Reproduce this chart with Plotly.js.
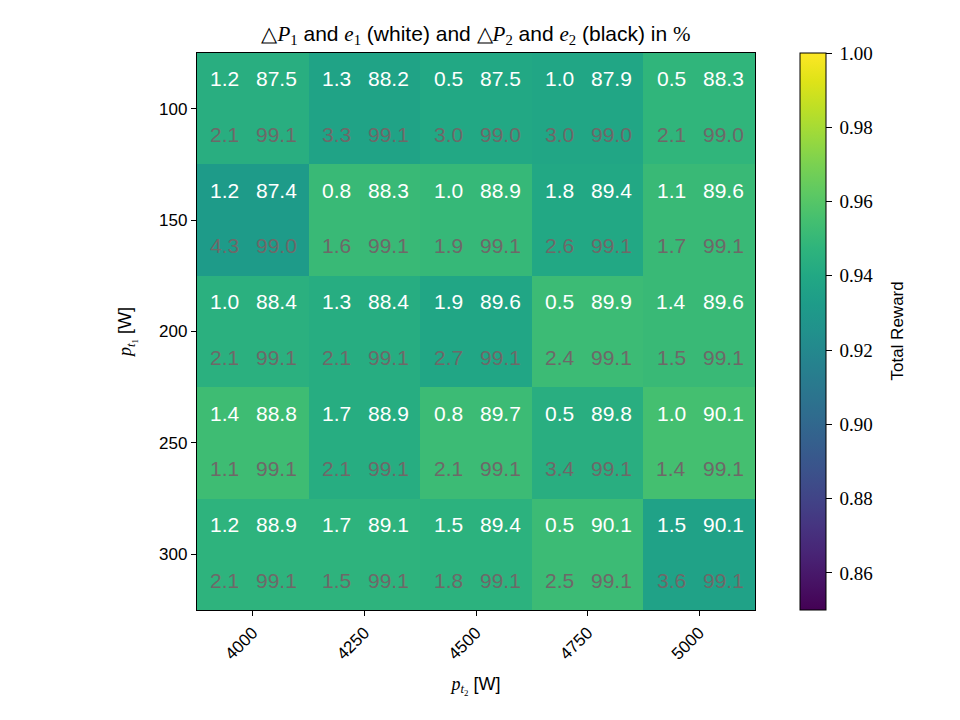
<!DOCTYPE html>
<html>
<head>
<meta charset="utf-8">
<script src="https://cdn.plot.ly/plotly-3.0.1.min.js"></script>
<style>
  html, body { margin: 0; padding: 0; background: #ffffff; }
  #chart { width: 960px; height: 720px; }
</style>
</head>
<body>
<div id="chart"></div>
<script>
// Grid axes: second target power (columns) and first target power (rows), in W
const pt2 = [4000, 4250, 4500, 4750, 5000];
const pt1 = [100, 150, 200, 250, 300];

// Total reward per (pt1, pt2) pair
const totalReward = [
  [0.944, 0.937, 0.940, 0.939, 0.948],
  [0.932, 0.951, 0.950, 0.940, 0.951],
  [0.945, 0.943, 0.939, 0.952, 0.951],
  [0.953, 0.943, 0.952, 0.944, 0.955],
  [0.947, 0.947, 0.946, 0.952, 0.936]
];

// Deviation and efficiency of unit 1 (%)
const dP1 = [
  [1.2, 1.3, 0.5, 1.0, 0.5],
  [1.2, 0.8, 1.0, 1.8, 1.1],
  [1.0, 1.3, 1.9, 0.5, 1.4],
  [1.4, 1.7, 0.8, 0.5, 1.0],
  [1.2, 1.7, 1.5, 0.5, 1.5]
];
const e1 = [
  [87.5, 88.2, 87.5, 87.9, 88.3],
  [87.4, 88.3, 88.9, 89.4, 89.6],
  [88.4, 88.4, 89.6, 89.9, 89.6],
  [88.8, 88.9, 89.7, 89.8, 90.1],
  [88.9, 89.1, 89.4, 90.1, 90.1]
];

// Deviation and efficiency of unit 2 (%)
const dP2 = [
  [2.1, 3.3, 3.0, 3.0, 2.1],
  [4.3, 1.6, 1.9, 2.6, 1.7],
  [2.1, 2.1, 2.7, 2.4, 1.5],
  [1.1, 2.1, 2.1, 3.4, 1.4],
  [2.1, 1.5, 1.8, 2.5, 3.6]
];
const e2 = [
  [99.1, 99.1, 99.0, 99.0, 99.0],
  [99.0, 99.1, 99.1, 99.1, 99.1],
  [99.1, 99.1, 99.1, 99.1, 99.1],
  [99.1, 99.1, 99.1, 99.1, 99.1],
  [99.1, 99.1, 99.1, 99.1, 99.1]
];

const cbTicks = [0.86, 0.88, 0.90, 0.92, 0.94, 0.96, 0.98, 1.00];

// Finely sampled viridis so the interpolation follows the perceptual map
const viridisStops = ['#440154', '#471365', '#482475', '#463480', '#414487', '#3b528b',
  '#355f8d', '#2f6c8e', '#2a788e', '#25848e', '#21918c', '#1e9c89', '#22a884',
  '#2fb47c', '#44bf70', '#5ec962', '#7ad151', '#9bd93c', '#bddf26', '#dfe318', '#fde725'];
const viridis = viridisStops.map((c, i) => [i / (viridisStops.length - 1), c]);

const SANS = 'Liberation Sans';
const SERIF = 'Liberation Serif';
const mathSpan = s => '<span style="font-family:' + SERIF + '">' + s + '</span>';

// Each cell carries two text lines, one quarter-step above and below its centre;
// each line holds two numbers, set left and right of the cell centre
const rowStep = pt1[1] - pt1[0];
const annotations = [];
function addNumber(xv, yv, value, dx, color) {
  annotations.push({
    x: xv, y: yv, xref: 'x', yref: 'y',
    xshift: dx, yshift: 2,
    text: value.toFixed(1),
    showarrow: false,
    font: { family: SANS, size: 21, color: color }
  });
}
pt1.forEach((yv, i) => {
  pt2.forEach((xv, j) => {
    addNumber(xv, yv - rowStep / 4, dP1[i][j], -28, '#ffffff');
    addNumber(xv, yv - rowStep / 4, e1[i][j], 24, '#ffffff');
    addNumber(xv, yv + rowStep / 4, dP2[i][j], -28, '#6e6868');
    addNumber(xv, yv + rowStep / 4, e2[i][j], 24, '#6e6868');
  });
});

// Colour bar label, set to the right of the tick labels
annotations.push({
  x: 1.2545, y: 0.5, xref: 'paper', yref: 'paper',
  xanchor: 'center', yanchor: 'middle',
  text: 'Total Reward', textangle: -90,
  showarrow: false,
  font: { family: SANS, size: 17, color: '#000000' }
});

const trace = {
  type: 'heatmap',
  x: pt2,
  y: pt1,
  z: totalReward,
  zmin: 0.85,
  zmax: 1.0,
  colorscale: viridis,
  xgap: 0, ygap: 0,
  hoverinfo: 'skip',
  colorbar: {
    x: 1.0806, xanchor: 'left',
    y: 0.5, yanchor: 'middle',
    len: 1, lenmode: 'fraction',
    thickness: 26, thicknessmode: 'pixels',
    outlinecolor: '#000000', outlinewidth: 1,
    ticks: 'outside', ticklen: 6, tickwidth: 1, tickcolor: '#000000',
    tickvals: cbTicks,
    ticktext: cbTicks.map(v => mathSpan('\u2009' + v.toFixed(2))),
    tickfont: { family: SERIF, size: 19, color: '#000000' },
    xpad: 0, ypad: 0
  }
};

const layout = {
  width: 960,
  height: 720,
  paper_bgcolor: '#ffffff',
  plot_bgcolor: '#ffffff',
  font: { family: SANS, color: '#000000' },
  margin: { l: 197, r: 205, t: 53, b: 110 },
  title: {
    text: mathSpan('△<i>P</i><sub>1</sub>') + ' and ' + mathSpan('<i>e</i><sub>1</sub>') +
          ' (white) and ' + mathSpan('△<i>P</i><sub>2</sub>') + ' and ' + mathSpan('<i>e</i><sub>2</sub>') +
          ' (black) in ' + mathSpan('%'),
    x: 0.5, xref: 'paper', xanchor: 'center',
    y: 1, yref: 'paper', yanchor: 'bottom',
    pad: { b: 12 },
    font: { family: SANS, size: 21, color: '#000000' }
  },
  xaxis: {
    range: [3875, 5125],
    tickvals: pt2,
    ticktext: pt2.map(String),
    tickangle: -45,
    ticks: 'outside', ticklen: 5, tickwidth: 1, tickcolor: '#000000',
    tickfont: { family: SANS, size: 17, color: '#000000' },
    showline: true, linecolor: '#000000', linewidth: 1.2, mirror: true,
    showgrid: false, zeroline: false,
    title: {
      text: mathSpan('<i>p</i><sub><i>t</i><sub>2</sub></sub>') + ' [W]',
      font: { family: SANS, size: 18, color: '#000000' },
      standoff: 14
    }
  },
  yaxis: {
    range: [325, 75],
    tickvals: pt1,
    ticktext: pt1.map(String),
    ticks: 'outside', ticklen: 5, tickwidth: 1, tickcolor: '#000000',
    tickfont: { family: SANS, size: 17, color: '#000000' },
    showline: true, linecolor: '#000000', linewidth: 1.2, mirror: true,
    showgrid: false, zeroline: false,
    title: {
      text: mathSpan('<i>p</i><sub><i>t</i><sub>1</sub></sub>') + ' [W]',
      font: { family: SANS, size: 18, color: '#000000' },
      standoff: 22
    }
  },
  annotations: annotations
};

Plotly.newPlot('chart', [trace], layout, { displayModeBar: false, staticPlot: true });
</script>
</body>
</html>
